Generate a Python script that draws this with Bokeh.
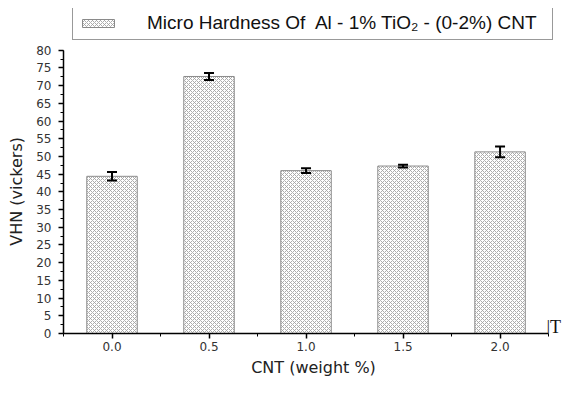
from bokeh.plotting import figure
from bokeh.models import (ColumnDataSource, Whisker, TeeHead, SingleIntervalTicker,
                          FixedTicker, Range1d, Legend, LegendItem, Label)
from bokeh.embed import file_html
from bokeh.resources import INLINE

cnt = [0.0, 0.5, 1.0, 1.5, 2.0]
vhn = [44.4, 72.6, 46.0, 47.3, 51.3]
err = [1.2, 1.0, 0.7, 0.4, 1.5]
x_ticks = [0.0, 0.5, 1.0, 1.5, 2.0]
x_minor = [-0.25, 0.25, 0.75, 1.25, 1.75, 2.25]
legend_text = "Micro Hardness Of  Al - 1% TiO\u2082 - (0-2%) CNT"
corner_text = "|T"

src = ColumnDataSource(dict(
    x=cnt, top=vhn,
    upper=[v + e for v, e in zip(vhn, err)],
    lower=[v - e for v, e in zip(vhn, err)],
))

# frame is extended above/right so the legend box and the stray text fit;
# the axes themselves are bounded to 0-80 and -0.25-2.25
p = figure(width=563, height=379, output_backend="svg", toolbar_location=None,
           x_range=Range1d(-0.25, 2.327), y_range=Range1d(0, 91.8),
           min_border_left=63, min_border_right=0, min_border_top=8,
           min_border_bottom=45)
p.outline_line_color = None
p.grid.visible = False
p.background_fill_color = "white"

bars = p.vbar(x="x", top="top", width=0.26, source=src, fill_color="white",
              line_color="#8a8a8a", line_width=1, hatch_pattern="diagonal_cross",
              hatch_color="#a4a4a4", hatch_scale=4, hatch_weight=0.9)

w = Whisker(base="x", upper="upper", lower="lower", source=src, level="overlay",
            line_color="black", line_width=2,
            upper_head=TeeHead(size=10, line_width=2, line_color="black"),
            lower_head=TeeHead(size=10, line_width=2, line_color="black"))
p.add_layout(w)

font = "DejaVu Sans"
p.xaxis.ticker = FixedTicker(ticks=x_ticks, minor_ticks=x_minor)
p.xaxis.major_label_overrides = {t: f"{t:.1f}" for t in x_ticks}
p.xaxis.bounds = (-0.25, 2.25)
p.yaxis.ticker = SingleIntervalTicker(interval=5, num_minor_ticks=2)
p.yaxis.bounds = (0, 80)
for ax in (p.xaxis, p.yaxis):
    ax.axis_line_color = "black"
    ax.axis_line_width = 1.5
    ax.major_tick_line_color = "black"
    ax.major_tick_line_width = 1.5
    ax.minor_tick_line_color = "black"
    ax.major_tick_in = 0
    ax.major_tick_out = 5
    ax.minor_tick_in = 0
    ax.minor_tick_out = 3
    ax.major_label_text_font = font
    ax.major_label_text_font_size = "12px"
    ax.major_label_text_color = "#333333"
    ax.axis_label_text_font = font
    ax.axis_label_text_font_size = "16px"
    ax.axis_label_text_font_style = "normal"
    ax.axis_label_text_color = "#222222"
p.xaxis.axis_label = "CNT (weight %)"
p.yaxis.axis_label = "VHN (vickers)" + "\u00a0" * 8
p.xaxis.major_label_standoff = 3
p.yaxis.major_label_standoff = 7
p.xaxis.axis_label_standoff = 4
p.yaxis.axis_label_standoff = 7

legend = Legend(items=[LegendItem(label=legend_text, renderers=[bars])],
                location=(9, 293), orientation="horizontal", margin=0,
                padding=5, glyph_width=40, glyph_height=10, label_standoff=29,
                label_width=400, label_height=18,
                label_text_font="Liberation Sans", label_text_font_size="19px",
                label_text_color="#111111",
                border_line_color="#333333", border_line_width=1.2,
                background_fill_color="white", background_fill_alpha=1)
p.add_layout(legend)

p.add_layout(Label(x=483, y=7, x_units="screen", y_units="screen",
                   text=corner_text, text_font="Liberation Serif",
                   text_font_size="18px", text_baseline="alphabetic",
                   text_color="#111111"))

open("out.html", "w").write(file_html(p, INLINE))
